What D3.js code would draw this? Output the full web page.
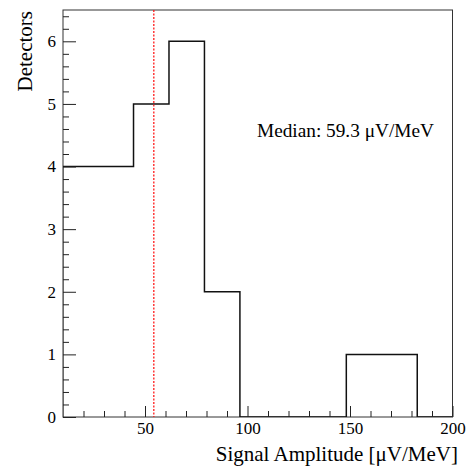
<!DOCTYPE html>
<html>
<head>
<meta charset="utf-8">
<script src="https://cdn.jsdelivr.net/npm/d3@7"></script>
<style>
  body { margin: 0; background: #fff; }
  text { font-family: "Liberation Serif", "DejaVu Serif", serif; fill: #000; }
</style>
</head>
<body>
<script>
// histogram bins (signal amplitude, µV/MeV) and detector counts
const binEdges = [9.8, 27.1, 44.4, 61.7, 79.0, 96.3, 113.6, 130.9, 148.2, 165.5, 182.8, 200]
const counts = [4, 4, 5, 6, 2, 0, 0, 0, 1, 1, 0]
const medianLine = 54.3
const medianLabel = 'Median: 59.3 \u03BCV/MeV'
const xMajor = [50, 100, 150, 200]
const xMinor = [20, 30, 40, 60, 70, 80, 90, 110, 120, 130, 140, 160, 170, 180, 190]
const yMajor = [0, 1, 2, 3, 4, 5, 6]
const yMinor = d3.range(0, 6.5, 0.2).filter(v => Math.abs(v - Math.round(v)) > 0.01)

const width = 469, height = 467
const pLeft = 63, pRight = 452.5, pTop = 10, pBottom = 417
const serif = 'Liberation Serif'

const svg = d3.select('body')
    .append('svg')
    .attr('width', width)
    .attr('height', height)

const x = d3.scaleLinear()
    .domain([10, 200])
    .range([pLeft, pRight])

const y = d3.scaleLinear()
    .domain([0, 6.5])
    .range([pBottom, pTop])

svg.append('clipPath').attr('id', 'plot')
    .append('rect')
    .attr('x', pLeft).attr('y', pTop)
    .attr('width', pRight - pLeft).attr('height', pBottom - pTop)

// frame
svg.append('rect')
    .attr('x', pLeft).attr('y', pTop)
    .attr('width', pRight - pLeft).attr('height', pBottom - pTop)
    .attr('fill', 'none')
    .attr('stroke', '#333')
    .attr('stroke-width', 1)

// histogram outline as steps
const pts = []
counts.forEach((c, i) => {
    pts.push([binEdges[i], c])
    pts.push([binEdges[i + 1], c])
})
pts.unshift([binEdges[0], 0])
pts.push([binEdges[binEdges.length - 1], 0])

svg.append('path')
    .datum(pts)
    .attr('clip-path', 'url(#plot)')
    .attr('d', d3.line().x(d => x(d[0])).y(d => y(d[1])))
    .attr('fill', 'none')
    .attr('stroke', '#111')
    .attr('stroke-width', 1.5)

// median marker
svg.append('line')
    .attr('x1', x(medianLine)).attr('x2', x(medianLine))
    .attr('y1', y(6.5)).attr('y2', y(0))
    .attr('stroke', '#ff1a1a')
    .attr('stroke-width', 1.3)
    .attr('stroke-dasharray', '2,1.5')

// x axis
const gx = svg.append('g')
    .attr('transform', `translate(0, ${pBottom})`)
    .call(d3.axisBottom(x).tickValues(xMajor).tickSize(-11).tickPadding(5).tickFormat(d3.format('d')))
gx.append('g')
    .call(d3.axisBottom(x).tickValues(xMinor).tickSize(-6).tickFormat(''))
gx.selectAll('.domain').remove()
gx.selectAll('line').attr('stroke', '#222')
gx.attr('font-family', serif).attr('font-size', 17)

// y axis
const gy = svg.append('g')
    .attr('transform', `translate(${pLeft}, 0)`)
    .call(d3.axisLeft(y).tickValues(yMajor).tickSize(-13).tickPadding(7).tickFormat(d3.format('d')))
gy.append('g')
    .call(d3.axisLeft(y).tickValues(yMinor).tickSize(-6).tickFormat(''))
gy.selectAll('.domain').remove()
gy.selectAll('line').attr('stroke', '#222')
gy.attr('font-family', serif).attr('font-size', 17)
svg.selectAll('.tick text').attr('fill', '#000')

// titles
svg.append('text')
    .attr('x', 458)
    .attr('y', 461)
    .attr('text-anchor', 'end')
    .attr('font-family', serif)
    .style('font-size', '21px')
    .text('Signal Amplitude [\u03BCV/MeV]')

svg.append('text')
    .attr('transform', 'translate(32, 11) rotate(-90)')
    .attr('text-anchor', 'end')
    .attr('font-family', serif)
    .style('font-size', '21px')
    .text('Detectors')

svg.append('text')
    .attr('x', 257)
    .attr('y', 137)
    .attr('font-family', serif)
    .style('font-size', '19.3px')
    .text(medianLabel)
</script>
</body>
</html>
